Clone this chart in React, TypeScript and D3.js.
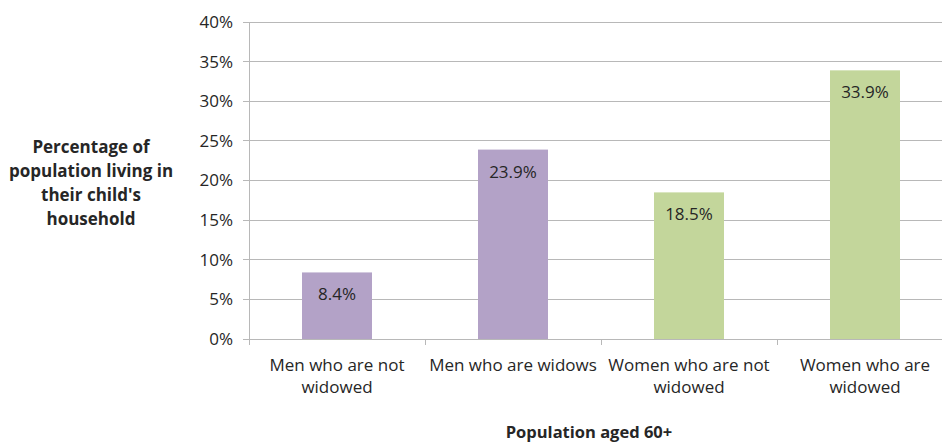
import React from "react";
import * as d3 from "d3";

const categories: string[][] = [
  ["Men who are not", "widowed"],
  ["Men who are widows"],
  ["Women who are not", "widowed"],
  ["Women who are", "widowed"],
];
const values: number[] = [8.4, 23.9, 18.5, 33.9];
const barColors: string[] = ["#b3a2c7", "#b3a2c7", "#c3d69b", "#c3d69b"];
const yTicks: number[] = [0, 5, 10, 15, 20, 25, 30, 35, 40];
const yTitle: string[] = ["Percentage of", "population living in", "their child's", "household"];
const xTitle = "Population aged 60+";

const W = 942;
const H = 444;
const left = 249;
const right = 953;
const top = 22;
const bottom = 339;
const font = "'Open Sans', sans-serif";
const textColor = "#262626";
const fs = 17;

export default function App() {
  const x = d3.scaleBand<number>().domain(d3.range(values.length)).range([left, right]).paddingInner(0).paddingOuter(0);
  const y = d3.scaleLinear().domain([0, 40]).range([bottom, top]);
  const bw = x.bandwidth();
  const barW = 70;
  return (
    <svg width={W} height={H} style={{ position: "absolute", left: 0, top: 0, background: "#fff" }}>
      {yTicks.map((t) => (
        <g key={t}>
          <line x1={left} x2={right} y1={y(t)} y2={y(t)} stroke="#b8b8b8" strokeWidth={1} shapeRendering="crispEdges" />
          <line x1={left - 6} x2={left} y1={y(t)} y2={y(t)} stroke="#b8b8b8" strokeWidth={1} shapeRendering="crispEdges" />
          <text x={left - 16} y={y(t)} dy="0.35em" textAnchor="end" fontFamily={font} fontSize={fs} fill={textColor}>
            {t}%
          </text>
        </g>
      ))}
      <line x1={left} x2={left} y1={top} y2={bottom} stroke="#b8b8b8" shapeRendering="crispEdges" />
      {d3.range(values.length + 1).map((i) => (
        <line key={i} x1={left + i * bw} x2={left + i * bw} y1={bottom} y2={bottom + 6} stroke="#b8b8b8" shapeRendering="crispEdges" />
      ))}
      {values.map((v, i) => {
        const cx = (x(i) as number) + bw / 2;
        return (
          <g key={i}>
            <rect x={cx - barW / 2} y={y(v)} width={barW} height={bottom - y(v)} fill={barColors[i]} />
            <text x={cx} y={y(v) + 22} dy="0.35em" textAnchor="middle" fontFamily={font} fontSize={fs} fill={textColor}>
              {v.toFixed(1)}%
            </text>
            {categories[i].map((line, j) => (
              <text key={j} x={cx} y={365 + j * 22} dy="0.35em" textAnchor="middle" fontFamily={font} fontSize={fs} fill={textColor}>
                {line}
              </text>
            ))}
          </g>
        );
      })}
      {yTitle.map((line, j) => (
        <text key={j} x={91} y={147 + j * 24} dy="0.35em" textAnchor="middle" fontFamily={font} fontSize={fs} fontWeight="bold" fill={textColor}>
          {line}
        </text>
      ))}
      <text x={589} y={438} textAnchor="middle" fontFamily={font} fontSize={16.5} fontWeight="bold" fill={textColor}>
        {xTitle}
      </text>
    </svg>
  );
}
